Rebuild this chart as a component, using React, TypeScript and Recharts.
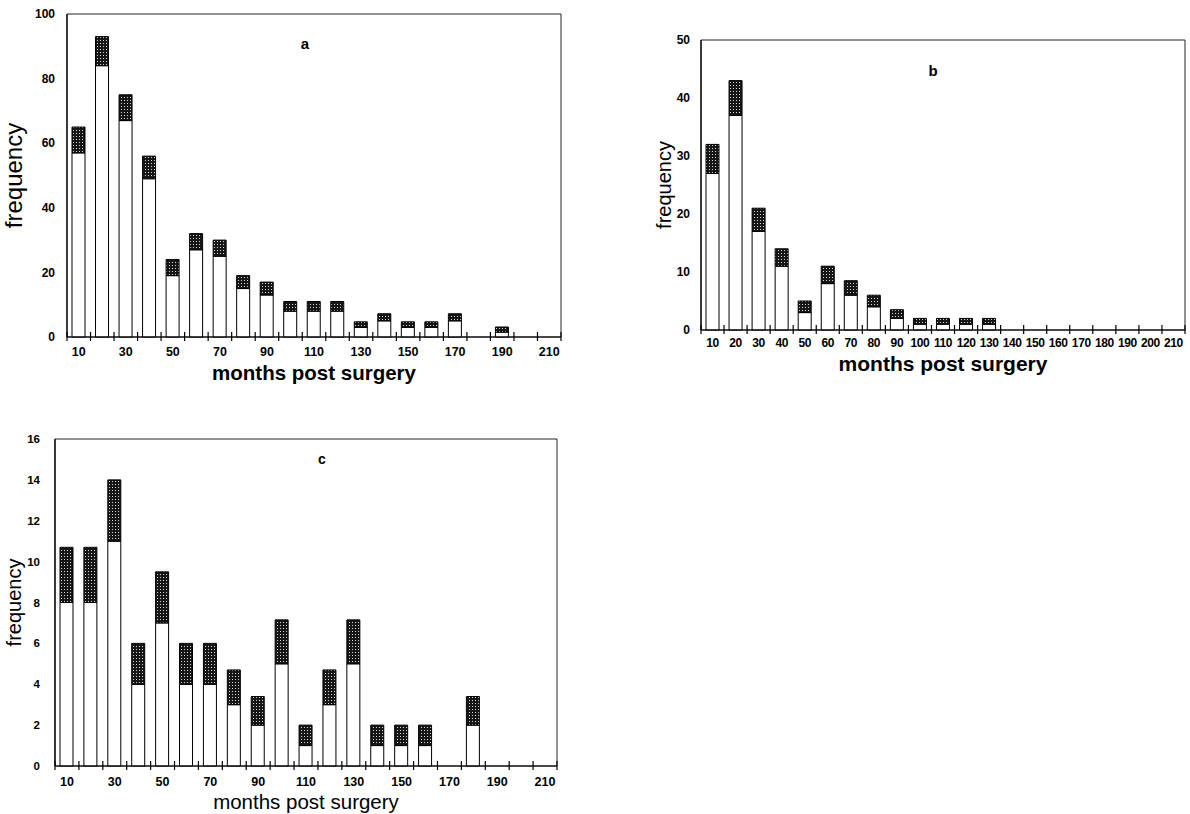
import React from 'react';
import { BarChart, Bar, XAxis, YAxis, ReferenceArea } from 'recharts';

const FONT = '"Liberation Sans", Arial, Helvetica, sans-serif';

// month bins (category centres) and bin edges
const bins = [10, 20, 30, 40, 50, 60, 70, 80, 90, 100, 110, 120, 130, 140, 150, 160, 170, 180, 190, 200, 210];
const binEdges = [5, 15, 25, 35, 45, 55, 65, 75, 85, 95, 105, 115, 125, 135, 145, 155, 165, 175, 185, 195, 205, 215];
const oddLabels = [10, 30, 50, 70, 90, 110, 130, 150, 170, 190, 210];
const allLabels = bins;

// panel a
const aWhite = [57, 84, 67, 49, 19, 27, 25, 15, 13, 8, 8, 8, 3, 5, 3, 3, 5, 0, 1.5, 0, 0];
const aStippled = [8, 9, 8, 7, 5, 5, 5, 4, 4, 3, 3, 3, 1.7, 2.2, 1.7, 1.7, 2.2, 0, 1.6, 0, 0];
const aYTicks = [0, 20, 40, 60, 80, 100];

// panel b
const bWhite = [27, 37, 17, 11, 3, 8, 6, 4, 2, 1, 1, 1, 1, 0, 0, 0, 0, 0, 0, 0, 0];
const bStippled = [5, 6, 4, 3, 2, 3, 2.5, 2, 1.5, 1, 1, 1, 1, 0, 0, 0, 0, 0, 0, 0, 0];
const bYTicks = [0, 10, 20, 30, 40, 50];

// panel c
const cWhite = [8, 8, 11, 4, 7, 4, 4, 3, 2, 5, 1, 3, 5, 1, 1, 1, 0, 2, 0, 0, 0];
const cStippled = [2.7, 2.7, 3, 2, 2.5, 2, 2, 1.7, 1.4, 2.15, 1, 1.7, 2.15, 1, 1, 1, 0, 1.4, 0, 0, 0];
const cYTicks = [0, 2, 4, 6, 8, 10, 12, 14, 16];

const rows = (white: number[], stip: number[]) =>
  bins.map((bin, i) => ({ bin, white: white[i], stippled: stip[i] }));

const makeXTick = (labels: number[], fontSize: number, dy: number, spacing: number) => (p: any) => {
  const { x, y, payload } = p;
  const v = Number(payload.value);
  if (binEdges.includes(v)) {
    return <line x1={x} x2={x} y1={y - 5} y2={y + 4} stroke="#000" strokeWidth={1.2} />;
  }
  if (labels.includes(v)) {
    return (
      <text x={x} y={y + dy} textAnchor="middle" fontFamily={FONT} fontWeight="bold" fontSize={fontSize} letterSpacing={spacing} fill="#000">
        {v}
      </text>
    );
  }
  return <g />;
};

type PanelProps = {
  data: { bin: number; white: number; stippled: number }[];
  left: number; top: number; width: number; height: number;
  margin: { top: number; right: number; bottom: number; left: number };
  yWidth: number; xHeight: number; yMax: number; yTicks: number[];
  xLabels: number[]; xFont: number; xDy: number; xSpacing: number;
  yFont: number; yTickMargin: number;
  xTitleFont: number; xTitleWeight: string; xTitleOffset: number;
  yTitleFont: number; yTitleWeight: string; yTitleOffset: number;
  barSize: number;
  letter: string; letterX: number; letterY: number; letterFont: number;
};

function Panel(p: PanelProps) {
  const xTicks = [...binEdges, ...p.xLabels].sort((a, b) => a - b);
  return (
    <div style={{ position: 'absolute', left: p.left, top: p.top, width: p.width, height: p.height }}>
      <BarChart width={p.width} height={p.height} data={p.data} margin={p.margin}>
        <XAxis
          dataKey="bin"
          type="number"
          domain={[5, 215]}
          ticks={xTicks}
          interval={0}
          height={p.xHeight}
          tickLine={false}
          tickSize={0}
          tickMargin={0}
          axisLine={{ stroke: '#000', strokeWidth: 1.2 }}
          tick={makeXTick(p.xLabels, p.xFont, p.xDy, p.xSpacing)}
          label={{
            value: 'months post surgery',
            position: 'insideTop',
            offset: p.xTitleOffset,
            style: { fontFamily: FONT, fontSize: p.xTitleFont, fontWeight: p.xTitleWeight as any, fill: '#000' },
          }}
        />
        <YAxis
          type="number"
          domain={[0, p.yMax]}
          ticks={p.yTicks}
          interval={0}
          width={p.yWidth}
          tickLine={false}
          tickSize={0}
          tickMargin={p.yTickMargin}
          axisLine={{ stroke: '#000', strokeWidth: 1.2 }}
          tick={{ fontFamily: FONT, fontWeight: 'bold', fontSize: p.yFont, fill: '#000' }}
          label={{
            value: 'frequency',
            angle: -90,
            position: 'insideLeft',
            offset: p.yTitleOffset,
            style: { fontFamily: FONT, fontSize: p.yTitleFont, fontWeight: p.yTitleWeight as any, fill: '#000', textAnchor: 'middle' },
          }}
        />
        <ReferenceArea x1={5} x2={215} y1={0} y2={p.yMax} fill="none" stroke="#222" strokeWidth={1} ifOverflow="visible" />
        <Bar dataKey="white" stackId="s" fill="#fff" stroke="#000" strokeWidth={1} barSize={p.barSize} isAnimationActive={false} />
        <Bar dataKey="stippled" stackId="s" fill="url(#stipple)" stroke="#000" strokeWidth={1} barSize={p.barSize} isAnimationActive={false} />
      </BarChart>
      <div
        style={{
          position: 'absolute', left: p.letterX, top: p.letterY, transform: 'translate(-50%, -50%)',
          fontFamily: FONT, fontWeight: 'bold', fontSize: p.letterFont, lineHeight: 1, color: '#000',
        }}
      >
        {p.letter}
      </div>
    </div>
  );
}

export default function App() {
  return (
    <div style={{ position: 'absolute', left: 0, top: 0, width: 1190, height: 814, background: '#fff', overflow: 'hidden' }}>
      <svg width={0} height={0} style={{ position: 'absolute' }}>
        <defs>
          <pattern id="stipple" patternUnits="userSpaceOnUse" width={3} height={3}>
            <rect x={0} y={0} width={3} height={3} fill="#161616" />
            <rect x={1} y={1} width={1} height={1} fill="#d8d8d8" />
          </pattern>
        </defs>
      </svg>
      <Panel
        data={rows(aWhite, aStippled)}
        left={0} top={0} width={600} height={400}
        margin={{ top: 14, right: 39, bottom: 0, left: 0 }}
        yWidth={67} xHeight={63} yMax={100} yTicks={aYTicks}
        xLabels={oddLabels} xFont={12.5} xDy={19} xSpacing={0}
        yFont={12} yTickMargin={12}
        xTitleFont={20.5} xTitleWeight="bold" xTitleOffset={28}
        yTitleFont={24} yTitleWeight="normal" yTitleOffset={13}
        barSize={13}
        letter="a" letterX={305} letterY={43} letterFont={15}
      />
      <Panel
        data={rows(bWhite, bStippled)}
        left={600} top={0} width={590} height={400}
        margin={{ top: 40, right: 5, bottom: 0, left: 0 }}
        yWidth={101} xHeight={70} yMax={50} yTicks={bYTicks}
        xLabels={allLabels} xFont={12} xDy={16.5} xSpacing={-0.4}
        yFont={12} yTickMargin={11}
        xTitleFont={21} xTitleWeight="bold" xTitleOffset={26}
        yTitleFont={20} yTitleWeight="normal" yTitleOffset={64}
        barSize={13}
        letter="b" letterX={333} letterY={70} letterFont={15}
      />
      <Panel
        data={rows(cWhite, cStippled)}
        left={0} top={420} width={600} height={394}
        margin={{ top: 19, right: 43, bottom: 0, left: 0 }}
        yWidth={55} xHeight={48} yMax={16} yTicks={cYTicks}
        xLabels={oddLabels} xFont={12.5} xDy={19.5} xSpacing={0}
        yFont={11.5} yTickMargin={15}
        xTitleFont={20.5} xTitleWeight="normal" xTitleOffset={28}
        yTitleFont={20} yTitleWeight="normal" yTitleOffset={14}
        barSize={13}
        letter="c" letterX={322} letterY={39} letterFont={14}
      />
    </div>
  );
}
